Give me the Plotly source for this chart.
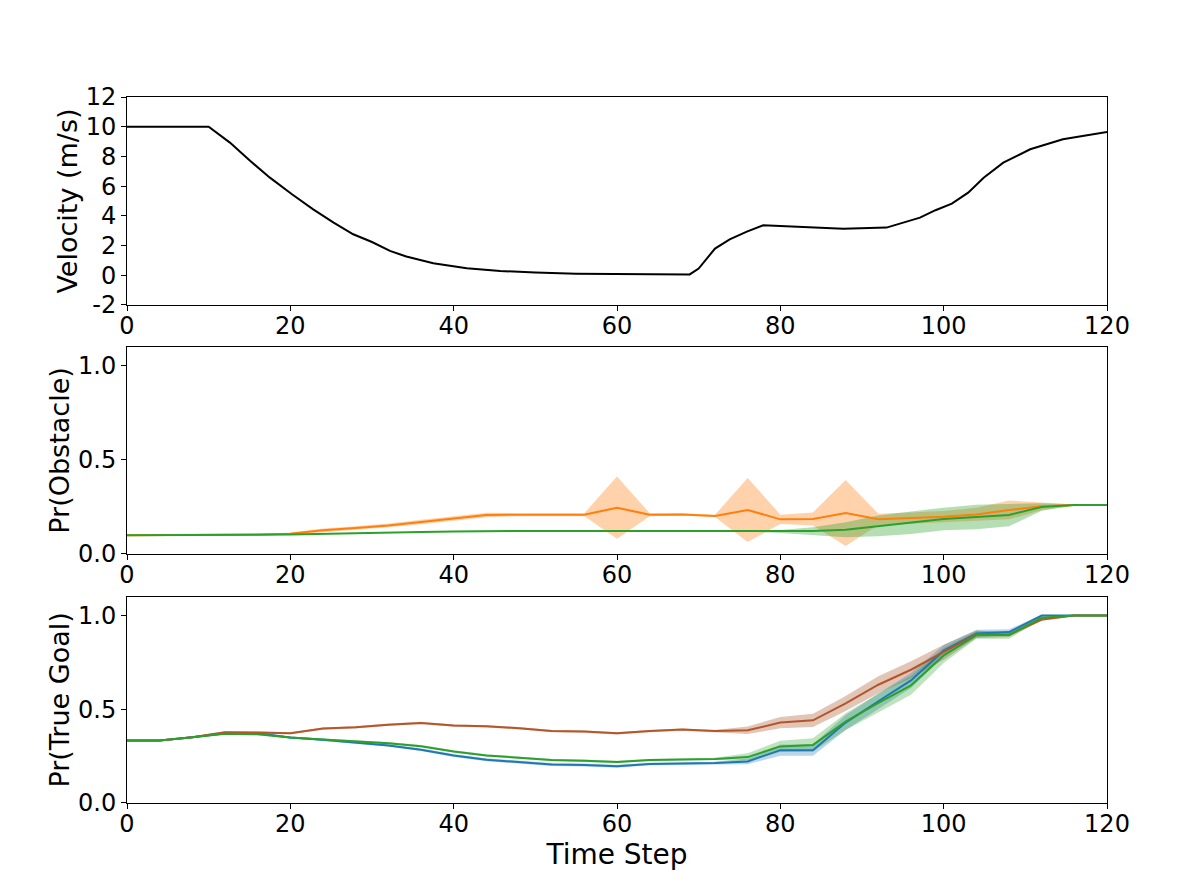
import plotly.graph_objects as go
from plotly.subplots import make_subplots

# velocity profile
T_VEL = [0, 10, 12.6, 15.1, 17.5, 20.2, 22.8, 25.3, 27.7, 30, 32.2, 34.2, 37.5, 41.6, 45.7,
         50, 55, 60, 65, 68.9, 70, 72, 73.8, 75.9, 77.9, 87.7, 93, 97.1, 99, 101, 103, 104.9,
         107.3, 110.6, 114.6, 120]
VELOCITY = [10, 10, 8.93, 7.69, 6.57, 5.45, 4.44, 3.54, 2.76, 2.24, 1.64, 1.26, 0.81, 0.47, 0.29,
            0.18, 0.11, 0.08, 0.07, 0.06, 0.45, 1.8, 2.42, 2.94, 3.36, 3.14, 3.21, 3.88, 4.38,
            4.82, 5.56, 6.57, 7.58, 8.48, 9.15, 9.64]

# probability time steps
T_PROB = [0, 4, 8, 12, 16, 20, 24, 28, 32, 36, 40, 44, 48, 52, 56, 60, 64, 68, 72, 76,
          80, 84, 88, 92, 96, 100, 104, 108, 112, 116, 120]

# Pr(Obstacle)
OBS_ORANGE = [0.1, 0.1, 0.1, 0.101, 0.103, 0.108, 0.126, 0.138, 0.152, 0.17, 0.188, 0.207,
              0.209, 0.209, 0.209, 0.246, 0.209, 0.21, 0.202, 0.234, 0.184, 0.186, 0.218,
              0.184, 0.191, 0.198, 0.21, 0.234, 0.253, 0.26, 0.26]
OBS_ORANGE_SD = [0.003, 0.003, 0.003, 0.003, 0.003, 0.006, 0.01, 0.01, 0.01, 0.012, 0.012,
                 0.012, 0.008, 0.008, 0.008, 0.165, 0.008, 0.006, 0.006, 0.17, 0.025, 0.035,
                 0.175, 0.03, 0.03, 0.03, 0.035, 0.05, 0.02, 0.003, 0.003]
OBS_GREEN = [0.1, 0.1, 0.1, 0.1, 0.102, 0.104, 0.108, 0.111, 0.114, 0.117, 0.119, 0.122,
             0.122, 0.122, 0.122, 0.122, 0.122, 0.122, 0.122, 0.121, 0.12, 0.122, 0.129,
             0.149, 0.166, 0.186, 0.196, 0.207, 0.25, 0.26, 0.26]
OBS_GREEN_SD = [0.002, 0.002, 0.002, 0.002, 0.002, 0.002, 0.002, 0.002, 0.002, 0.002, 0.002,
                0.002, 0.002, 0.002, 0.002, 0.002, 0.002, 0.002, 0.002, 0.003, 0.008, 0.02,
                0.04, 0.055, 0.06, 0.06, 0.065, 0.06, 0.02, 0.004, 0.003]

# Pr(True Goal)
GOAL_BROWN = [0.333, 0.333, 0.351, 0.377, 0.376, 0.372, 0.397, 0.404, 0.418, 0.427, 0.413,
              0.409, 0.399, 0.384, 0.381, 0.372, 0.384, 0.392, 0.384, 0.388, 0.429, 0.441,
              0.531, 0.631, 0.711, 0.804, 0.901, 0.898, 0.979, 1.0, 1.0]
GOAL_BROWN_SD = [0.004, 0.004, 0.005, 0.006, 0.006, 0.005, 0.006, 0.006, 0.006, 0.006, 0.006,
                 0.006, 0.006, 0.006, 0.006, 0.006, 0.006, 0.006, 0.006, 0.02, 0.03, 0.035,
                 0.04, 0.045, 0.045, 0.04, 0.02, 0.012, 0.008, 0.002, 0.002]
GOAL_BLUE = [0.333, 0.333, 0.351, 0.372, 0.372, 0.349, 0.337, 0.321, 0.307, 0.284, 0.254,
             0.231, 0.217, 0.205, 0.203, 0.196, 0.208, 0.21, 0.213, 0.222, 0.282, 0.282,
             0.429, 0.543, 0.654, 0.813, 0.905, 0.912, 1.0, 1.0, 1.0]
GOAL_BLUE_SD = [0.003, 0.003, 0.004, 0.005, 0.005, 0.005, 0.005, 0.006, 0.006, 0.007, 0.008,
                0.008, 0.008, 0.008, 0.008, 0.008, 0.007, 0.007, 0.007, 0.015, 0.03, 0.03,
                0.04, 0.04, 0.04, 0.03, 0.02, 0.015, 0.005, 0.002, 0.002]
GOAL_GREEN = [0.333, 0.333, 0.351, 0.369, 0.367, 0.349, 0.339, 0.328, 0.319, 0.303, 0.275,
              0.254, 0.242, 0.229, 0.226, 0.219, 0.229, 0.233, 0.235, 0.245, 0.302, 0.31,
              0.434, 0.534, 0.628, 0.787, 0.896, 0.896, 0.989, 1.0, 1.0]
GOAL_GREEN_SD = [0.003, 0.003, 0.004, 0.005, 0.005, 0.005, 0.005, 0.005, 0.006, 0.006, 0.006,
                 0.006, 0.006, 0.006, 0.006, 0.006, 0.006, 0.006, 0.006, 0.02, 0.03, 0.035,
                 0.045, 0.05, 0.05, 0.04, 0.02, 0.02, 0.008, 0.002, 0.002]

VEL_TICKS = [-2, 0, 2, 4, 6, 8, 10, 12]
VEL_TICK_TEXT = ['-2', '0', '2', '4', '6', '8', '10', '12']

BLUE = '#1f77b4'
ORANGE = '#ff7f0e'
GREEN = '#2ca02c'
BROWN = '#b5552a'


def band(t, mean, sd, fill, row):
    upper = [m + s for m, s in zip(mean, sd)]
    lower = [m - s for m, s in zip(mean, sd)]
    fig.add_trace(go.Scatter(x=t + t[::-1], y=upper + lower[::-1], fill='toself',
                             fillcolor=fill, line=dict(width=0), mode='lines',
                             hoverinfo='skip', showlegend=False), row=row, col=1)


fig = make_subplots(rows=3, cols=1)

fig.add_trace(go.Scatter(x=T_VEL, y=VELOCITY, mode='lines',
                         line=dict(color='black', width=2), showlegend=False), row=1, col=1)

band(T_PROB, OBS_ORANGE, OBS_ORANGE_SD, 'rgba(255,127,14,0.35)', 2)
band(T_PROB, OBS_GREEN, OBS_GREEN_SD, 'rgba(44,160,44,0.35)', 2)
fig.add_trace(go.Scatter(x=T_PROB, y=OBS_ORANGE, mode='lines',
                         line=dict(color=ORANGE, width=2), showlegend=False), row=2, col=1)
fig.add_trace(go.Scatter(x=T_PROB, y=OBS_GREEN, mode='lines',
                         line=dict(color=GREEN, width=2), showlegend=False), row=2, col=1)

band(T_PROB, GOAL_BROWN, GOAL_BROWN_SD, 'rgba(170,90,50,0.35)', 3)
band(T_PROB, GOAL_BLUE, GOAL_BLUE_SD, 'rgba(31,119,180,0.3)', 3)
band(T_PROB, GOAL_GREEN, GOAL_GREEN_SD, 'rgba(44,160,44,0.3)', 3)
fig.add_trace(go.Scatter(x=T_PROB, y=GOAL_BLUE, mode='lines',
                         line=dict(color=BLUE, width=2), showlegend=False), row=3, col=1)
fig.add_trace(go.Scatter(x=T_PROB, y=GOAL_BROWN, mode='lines',
                         line=dict(color=BROWN, width=2), showlegend=False), row=3, col=1)
fig.add_trace(go.Scatter(x=T_PROB, y=GOAL_GREEN, mode='lines',
                         line=dict(color=GREEN, width=2), showlegend=False), row=3, col=1)

axis_style = dict(showline=True, linecolor='black', linewidth=1, mirror=True,
                  ticks='outside', ticklen=5, tickcolor='black', showgrid=False,
                  zeroline=False, automargin=False, tickfont=dict(size=24, color='black'))

domains = [[0.7054, 1.0], [0.3527, 0.646], [0.0, 0.292]]
for i in range(3):
    fig.update_xaxes(axis_style, range=[0, 120], dtick=20, ticklabelstandoff=-6,
                     row=i + 1, col=1)
    fig.update_yaxes(axis_style, domain=domains[i], row=i + 1, col=1)

title_font = dict(size=27, color='black')
fig.update_yaxes(range=[-2, 12], tickvals=VEL_TICKS, ticktext=VEL_TICK_TEXT,
                 title=dict(text='Velocity (m/s)', standoff=0, font=title_font), row=1, col=1)
fig.update_yaxes(range=[0, 1.1], tickvals=[0, 0.5, 1.0], tickformat='.1f',
                 title=dict(text='Pr(Obstacle)', standoff=0, font=title_font), row=2, col=1)
fig.update_yaxes(range=[0, 1.1], tickvals=[0, 0.5, 1.0], tickformat='.1f',
                 title=dict(text='Pr(True Goal)', standoff=0, font=title_font), row=3, col=1)
fig.update_xaxes(title=dict(text='Time Step', standoff=0, font=dict(size=28, color='black')),
                 row=3, col=1)

# body has an 8px margin in the browser, so the margins are shifted by it
fig.update_layout(width=1196, height=892, plot_bgcolor='white', paper_bgcolor='white',
                  font=dict(family='DejaVu Sans', color='black'),
                  margin=dict(l=119, r=97, t=89, b=97), showlegend=False)

fig.write_html('out.html')
